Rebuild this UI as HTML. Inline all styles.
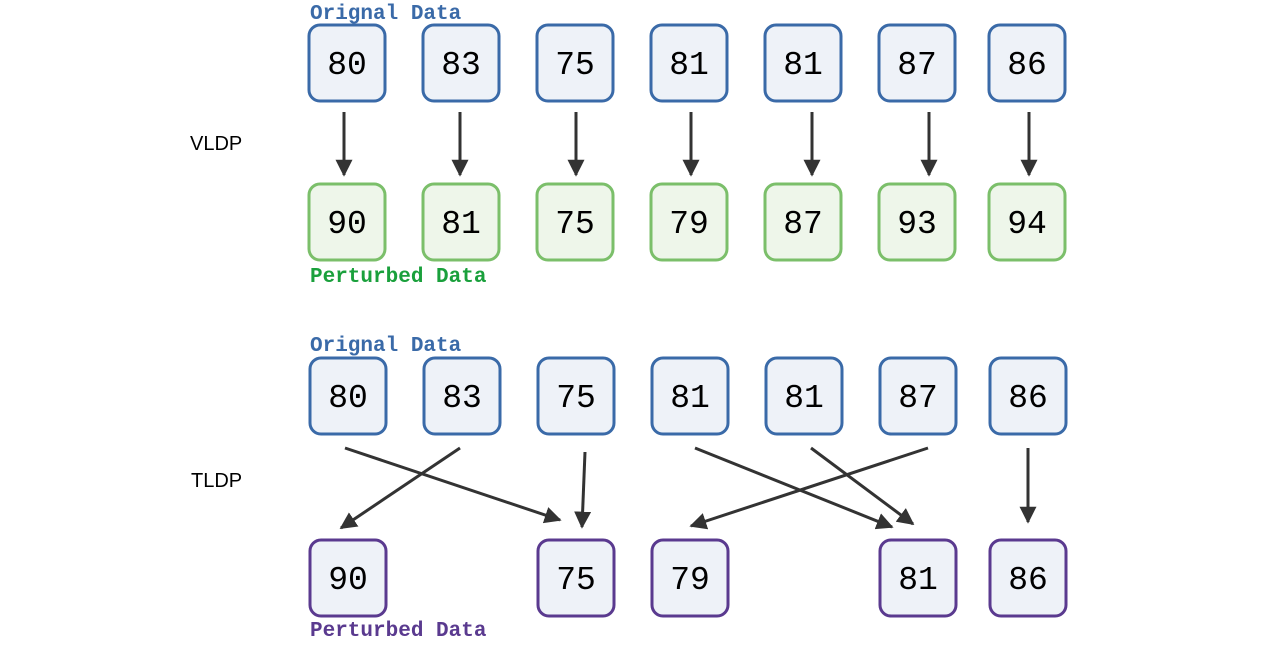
<!DOCTYPE html>
<html><head><style>html,body{margin:0;padding:0;background:#fff}</style></head><body>
<svg width="1279" height="643" xmlns="http://www.w3.org/2000/svg">
<defs>
<marker id="b" viewBox="0 0 10 10" markerWidth="17" markerHeight="17" refX="9" refY="5" orient="auto" markerUnits="userSpaceOnUse"><path d="M0,0 L10,5 L0,10 z" fill="#333"/></marker></defs>
<g font-family="Liberation Mono, monospace" font-weight="bold" font-size="21">
<text x="310" y="19" fill="#3a6aa8">Orignal Data</text>
<text x="310" y="282" fill="#1aa03c">Perturbed Data</text>
<text x="310" y="351" fill="#3a6aa8">Orignal Data</text>
<text x="310" y="636" fill="#5a3a8f">Perturbed Data</text>
</g>
<g font-family="Liberation Sans, sans-serif" font-size="20" fill="#000">
<text x="190" y="150">VLDP</text><text x="191" y="487">TLDP</text>
</g>
<g font-family="Liberation Mono, monospace" font-size="33" text-anchor="middle" stroke-width="3">
<g fill="#eef2f8" stroke="#3a6aa8">
<rect x="309" y="25" width="76" height="76" rx="11"/><rect x="423" y="25" width="76" height="76" rx="11"/><rect x="537" y="25" width="76" height="76" rx="11"/><rect x="651" y="25" width="76" height="76" rx="11"/><rect x="765" y="25" width="76" height="76" rx="11"/><rect x="879" y="25" width="76" height="76" rx="11"/><rect x="989" y="25" width="76" height="76" rx="11"/>
<rect x="310" y="358" width="76" height="76" rx="11"/><rect x="424" y="358" width="76" height="76" rx="11"/><rect x="538" y="358" width="76" height="76" rx="11"/><rect x="652" y="358" width="76" height="76" rx="11"/><rect x="766" y="358" width="76" height="76" rx="11"/><rect x="880" y="358" width="76" height="76" rx="11"/><rect x="990" y="358" width="76" height="76" rx="11"/>
</g>
<g fill="#eef6ea" stroke="#7bbf6a">
<rect x="309" y="184" width="76" height="76" rx="11"/><rect x="423" y="184" width="76" height="76" rx="11"/><rect x="537" y="184" width="76" height="76" rx="11"/><rect x="651" y="184" width="76" height="76" rx="11"/><rect x="765" y="184" width="76" height="76" rx="11"/><rect x="879" y="184" width="76" height="76" rx="11"/><rect x="989" y="184" width="76" height="76" rx="11"/>
</g>
<g fill="#eef2f8" stroke="#5a3a8f">
<rect x="310" y="540" width="76" height="76" rx="11"/><rect x="538" y="540" width="76" height="76" rx="11"/><rect x="652" y="540" width="76" height="76" rx="11"/><rect x="880" y="540" width="76" height="76" rx="11"/><rect x="990" y="540" width="76" height="76" rx="11"/>
</g>
<g fill="#000">
<text x="347" y="74">80</text><text x="461" y="74">83</text><text x="575" y="74">75</text><text x="689" y="74">81</text><text x="803" y="74">81</text><text x="917" y="74">87</text><text x="1027" y="74">86</text>
<text x="347" y="233">90</text><text x="461" y="233">81</text><text x="575" y="233">75</text><text x="689" y="233">79</text><text x="803" y="233">87</text><text x="917" y="233">93</text><text x="1027" y="233">94</text>
<text x="348" y="407">80</text><text x="462" y="407">83</text><text x="576" y="407">75</text><text x="690" y="407">81</text><text x="804" y="407">81</text><text x="918" y="407">87</text><text x="1028" y="407">86</text>
<text x="348" y="589">90</text><text x="576" y="589">75</text><text x="690" y="589">79</text><text x="918" y="589">81</text><text x="1028" y="589">86</text>
</g>
</g>
<g stroke="#333" stroke-width="3" marker-end="url(#b)">
<line x1="344" y1="112" x2="344" y2="175"/><line x1="460" y1="112" x2="460" y2="175"/><line x1="576" y1="112" x2="576" y2="175"/><line x1="691" y1="112" x2="691" y2="175"/><line x1="812" y1="112" x2="812" y2="175"/><line x1="929" y1="112" x2="929" y2="175"/><line x1="1029" y1="112" x2="1029" y2="175"/>
<line x1="345" y1="448" x2="560" y2="520"/><line x1="460" y1="448" x2="341" y2="528"/><line x1="585" y1="452" x2="582" y2="527"/><line x1="695" y1="448" x2="892" y2="527"/><line x1="811" y1="448" x2="913" y2="524"/><line x1="928" y1="448" x2="691" y2="526"/><line x1="1028" y1="448" x2="1028" y2="522"/>
</g>
</svg>
</body></html>
